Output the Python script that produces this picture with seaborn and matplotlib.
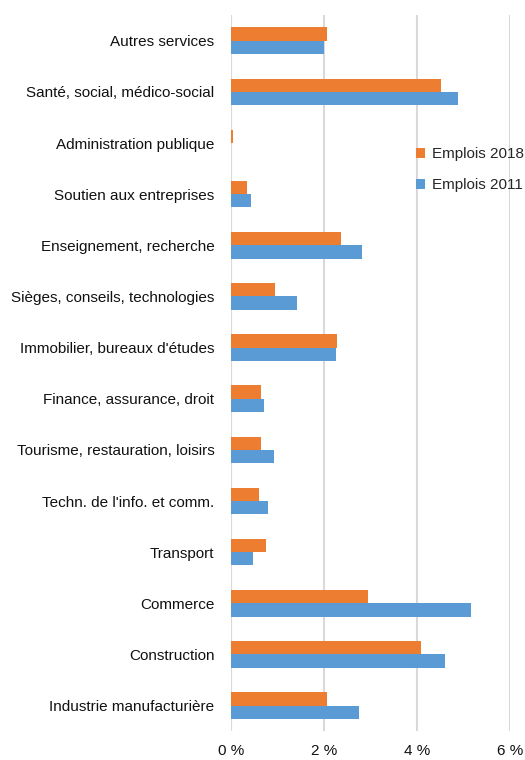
import matplotlib
matplotlib.use("Agg")
import matplotlib.pyplot as plt
import seaborn as sns
import pandas as pd

categories = [
    "Autres services",
    "Santé, social, médico-social",
    "Administration publique",
    "Soutien aux entreprises",
    "Enseignement, recherche",
    "Sièges, conseils, technologies",
    "Immobilier, bureaux d'études",
    "Finance, assurance, droit",
    "Tourisme, restauration, loisirs",
    "Techn. de l'info. et comm.",
    "Transport",
    "Commerce",
    "Construction",
    "Industrie manufacturière",
]
emplois_2018 = [2.07, 4.53, 0.04, 0.34, 2.36, 0.94, 2.29, 0.65, 0.65, 0.61, 0.76, 2.95, 4.09, 2.07]
emplois_2011 = [2.01, 4.89, 0.0, 0.44, 2.82, 1.42, 2.25, 0.72, 0.92, 0.79, 0.48, 5.16, 4.60, 2.76]
series_names = ["Emplois 2018", "Emplois 2011"]
x_ticks = [0, 2, 4, 6]
x_tick_labels = ["0 %", "2 %", "4 %", "6 %"]

df = pd.DataFrame({
    "categorie": categories * 2,
    "valeur": emplois_2018 + emplois_2011,
    "serie": [series_names[0]] * len(categories) + [series_names[1]] * len(categories),
})

sns.set_style("white")
plt.rcParams["font.family"] = ["Liberation Sans", "DejaVu Sans"]

fig = plt.figure(figsize=(5.25, 7.6), dpi=100)
ax = fig.add_axes([0.44, 0.038, 0.531, 0.942])

sns.barplot(data=df, y="categorie", x="valeur", hue="serie", hue_order=series_names,
            order=categories, orient="h", width=0.52,
            palette=["#ED7D31", "#5B9BD5"], ax=ax, linewidth=0, saturation=1)

ax.set_xlim(0, 6)
ax.set_ylim(len(categories) - 0.5, -0.5)
ax.set_xticks(x_ticks)
ax.set_xticklabels(x_tick_labels)
ax.set_xlabel("")
ax.set_ylabel("")
for s in ax.spines.values():
    s.set_visible(False)
ax.grid(axis="x", color="#d9d9d9", linewidth=1.5)
ax.grid(axis="y", visible=False)
ax.set_axisbelow(True)
ax.axvline(0, color="#d9d9d9", linewidth=1.5, zorder=0)
ax.tick_params(axis="both", length=0, labelsize=11, colors="#111111")
ax.tick_params(axis="y", pad=12)
ax.tick_params(axis="x", pad=9)

leg = ax.legend(loc="upper left", bbox_to_anchor=(0.64, 0.824), frameon=False,
                fontsize=11, handlelength=0.65, handleheight=0.65,
                handletextpad=0.4, labelspacing=1.1, borderaxespad=0)

fig.savefig("out.png", dpi=100)
